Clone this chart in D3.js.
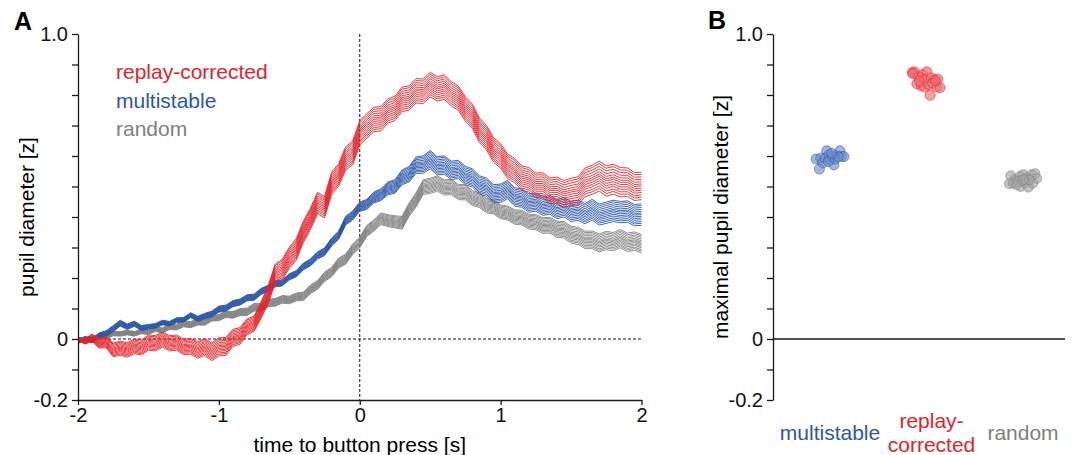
<!DOCTYPE html>
<html>
<head>
<meta charset="utf-8">
<script src="https://cdn.jsdelivr.net/npm/d3@7"></script>
<style>
  body { margin: 0; background: #fff; }
  svg { font-family: "Liberation Sans", Arial, sans-serif; }
</style>
</head>
<body>
<svg id="chart" width="1072" height="455"></svg>
<script>
// ---- data -------------------------------------------------------------
// sample times of the traces, -2 s .. 2 s every 50 ms
const sampleTimes = d3.range(81).map((i) => -2 + i * 0.05);

const conditions = ["multistable", "replay-corrected", "random"];

// mean pupil trace per condition (z), one value per sample time
const multistableMean = [
  -0.01, 0.002, -0.006, 0.012, 0.018, 0.034, 0.052, 0.04, 0.05, 0.036,
  0.04, 0.043, 0.054, 0.05, 0.062, 0.063, 0.078, 0.066, 0.075, 0.082,
  0.098, 0.101, 0.116, 0.121, 0.135, 0.137, 0.156, 0.166, 0.181, 0.184,
  0.204, 0.214, 0.238, 0.251, 0.274, 0.286, 0.318, 0.34, 0.388, 0.405,
  0.434, 0.441, 0.464, 0.473, 0.494, 0.5, 0.53, 0.54, 0.57, 0.572,
  0.588, 0.568, 0.57, 0.553, 0.556, 0.536, 0.528, 0.505, 0.498, 0.476,
  0.478, 0.49, 0.466, 0.462, 0.446, 0.449, 0.436, 0.44, 0.426, 0.432,
  0.418, 0.422, 0.411, 0.424, 0.408, 0.414, 0.42, 0.416, 0.418, 0.406,
  0.408
];
const replayMean = [
  0.0, -0.008, 0.004, -0.014, -0.01, -0.036, -0.03, -0.036, -0.024, -0.028,
  -0.012, -0.014, -0.002, -0.014, -0.012, -0.026, -0.024, -0.036, -0.026, -0.042,
  -0.026, -0.024, 0.004, 0.01, 0.04, 0.05, 0.095, 0.145, 0.215, 0.228,
  0.266, 0.294, 0.352, 0.394, 0.446, 0.432, 0.51, 0.538, 0.592, 0.61,
  0.676, 0.698, 0.72, 0.722, 0.748, 0.756, 0.786, 0.79, 0.814, 0.812,
  0.834, 0.82, 0.826, 0.804, 0.79, 0.754, 0.73, 0.684, 0.66, 0.62,
  0.6, 0.566, 0.552, 0.528, 0.522, 0.504, 0.504, 0.486, 0.488, 0.476,
  0.482, 0.486, 0.514, 0.522, 0.534, 0.518, 0.524, 0.514, 0.514, 0.5,
  0.502
];
const randomMean = [
  0.0, 0.003, 0.002, 0.01, 0.008, 0.018, 0.017, 0.021, 0.017, 0.025,
  0.022, 0.033, 0.028, 0.04, 0.039, 0.05, 0.047, 0.056, 0.055, 0.069,
  0.07, 0.081, 0.079, 0.088, 0.089, 0.104, 0.103, 0.118, 0.12, 0.13,
  0.128, 0.138, 0.14, 0.163, 0.177, 0.204, 0.219, 0.249, 0.262, 0.294,
  0.317, 0.354, 0.372, 0.394, 0.388, 0.384, 0.381, 0.424, 0.456, 0.498,
  0.502, 0.51, 0.497, 0.498, 0.482, 0.481, 0.462, 0.455, 0.437, 0.433,
  0.417, 0.413, 0.4, 0.398, 0.385, 0.383, 0.372, 0.373, 0.36, 0.358,
  0.342, 0.338, 0.325, 0.325, 0.315, 0.323, 0.319, 0.329, 0.317, 0.321,
  0.313
];

// width of the bundle of single traces (z), every 250 ms
const spreadTimes = d3.range(17).map((i) => -2 + i * 0.25);
const multistableSpread = [0.01, 0.02, 0.015, 0.015, 0.02, 0.02, 0.02, 0.025, 0.03, 0.045, 0.06, 0.06, 0.06, 0.06, 0.065, 0.07, 0.07];
const replaySpread = [0.01, 0.045, 0.05, 0.05, 0.06, 0.05, 0.07, 0.07, 0.08, 0.08, 0.08, 0.08, 0.08, 0.08, 0.09, 0.1, 0.09];
const randomSpread = [0.005, 0.015, 0.015, 0.02, 0.02, 0.025, 0.025, 0.03, 0.035, 0.04, 0.05, 0.05, 0.045, 0.05, 0.055, 0.06, 0.06];

// position of each single trace inside the bundle (fraction of spread)
const traceOffsets = [-0.5, -0.41, -0.33, -0.24, -0.16, -0.08, 0.0, 0.07, 0.15, 0.24, 0.33, 0.42, 0.5];

// panel B: maximal pupil diameter per subject, with horizontal jitter
const multistableMax = [0.590, 0.593, 0.577, 0.617, 0.592, 0.604, 0.588, 0.599, 0.571, 0.601, 0.617, 0.599, 0.598, 0.557, 0.582, 0.590, 0.597, 0.608];
const multistableJitter = [-0.144, -0.096, -0.075, -0.034, -0.052, -0.01, 0, 0.028, 0.041, 0.069, 0.103, 0.12, 0.144, -0.11, -0.018, 0.052, 0.086, 0.018];
const replayMax = [0.874, 0.876, 0.859, 0.867, 0.876, 0.850, 0.856, 0.850, 0.852, 0.837, 0.830, 0.826, 0.834, 0.839, 0.826, 0.824, 0.799, 0.870, 0.845, 0.847];
const replayJitter = [-0.148, -0.124, -0.079, -0.038, 0.003, -0.021, 0.048, 0.082, 0.117, -0.1, -0.055, -0.021, 0.024, 0.065, 0.106, 0.141, 0.038, -0.141, -0.072, 0.093];
const randomMax = [0.535, 0.522, 0.533, 0.539, 0.528, 0.539, 0.542, 0.526, 0.509, 0.511, 0.517, 0.500, 0.513, 0.498, 0.511, 0.522, 0.506, 0.522];
const randomJitter = [-0.127, -0.082, -0.031, 0.003, 0.038, 0.09, 0.124, 0.141, -0.141, -0.1, -0.048, -0.024, 0.021, 0.055, 0.1, 0.065, -0.065, 0.003];

const xTickValues = [-2, -1, 0, 1, 2];
const yTickValues = [-0.2, -0.1, 0, 0.1, 0.2, 0.3, 0.4, 0.5, 0.6, 0.7, 0.8, 0.9, 1.0];
const yTickLabels = new Map([[-0.2, "-0.2"], [0, "0"], [1.0, "1.0"]]);

// ---- styling -----------------------------------------------------------
const color = {
  "multistable": "#2b57a7",
  "replay-corrected": "#e4222a",
  "random": "#808080",
};
const pointFill = {
  "multistable": "#6f8fcb",
  "replay-corrected": "#ef6b70",
  "random": "#a3a3a3",
};

const series = [
  { key: "random", mean: randomMean, spread: randomSpread },
  { key: "multistable", mean: multistableMean, spread: multistableSpread },
  { key: "replay-corrected", mean: replayMean, spread: replaySpread },
];
const points = [
  { key: "multistable", values: multistableMax, jitter: multistableJitter },
  { key: "replay-corrected", values: replayMax, jitter: replayJitter },
  { key: "random", values: randomMax, jitter: randomJitter },
];

const svg = d3.select("#chart");
const axisColor = "#1a1a1a";

// ---- panel A -----------------------------------------------------------
const marginTop = 34, bottomA = 400;
const leftA = 78, rightA = 641.5;

const x = d3.scaleLinear().domain([-2, 2]).range([leftA, rightA]);
const y = d3.scaleLinear().domain([-0.2, 1.0]).range([bottomA, marginTop]);

// reference lines
svg.append("line")
  .attr("x1", x(-2)).attr("x2", x(2))
  .attr("y1", y(0)).attr("y2", y(0))
  .attr("stroke", "#111").attr("stroke-width", 1)
  .attr("stroke-dasharray", "3,2");
svg.append("line")
  .attr("x1", x(0)).attr("x2", x(0))
  .attr("y1", y(1)).attr("y2", y(-0.2))
  .attr("stroke", "#111").attr("stroke-width", 1)
  .attr("stroke-dasharray", "3,2");

const line = d3.line()
  .x((d) => x(d[0]))
  .y((d) => y(d[1]));

const traces = svg.append("g").attr("fill", "none");
series.forEach((s) => {
  const spreadAt = d3.scaleLinear().domain(spreadTimes).range(s.spread);
  traces.append("g")
    .attr("stroke", color[s.key])
    .attr("stroke-width", 0.9)
    .attr("stroke-linejoin", "bevel")
    .selectAll("path")
    .data(traceOffsets)
    .join("path")
    .attr("d", (f) => line(sampleTimes.map((t, i) => [t, s.mean[i] + f * spreadAt(t)])));
});

// axes
const yAxisA = svg.append("g")
  .attr("transform", `translate(${leftA},0)`)
  .call(d3.axisLeft(y)
    .tickValues(yTickValues)
    .tickSize(6)
    .tickSizeOuter(0)
    .tickPadding(4)
    .tickFormat((d) => yTickLabels.get(Math.round(d * 10) / 10) || ""));

const xAxisA = svg.append("g")
  .attr("transform", `translate(0,${bottomA})`)
  .call(d3.axisBottom(x)
    .tickValues(xTickValues)
    .tickSize(5)
    .tickSizeOuter(0)
    .tickPadding(3)
    .tickFormat((d) => String(d)));

svg.append("text")
  .attr("x", (leftA + rightA) / 2)
  .attr("y", 452)
  .attr("text-anchor", "middle")
  .attr("font-size", 21)
  .text("time to button press [s]");

svg.append("text")
  .attr("transform", `translate(27,${(marginTop + bottomA) / 2}) rotate(-90)`)
  .attr("text-anchor", "middle")
  .attr("dy", "0.35em")
  .attr("font-size", 21)
  .text("pupil diameter [z]");

// legend
const legendOrder = ["replay-corrected", "multistable", "random"];
svg.append("g")
  .selectAll("text")
  .data(legendOrder)
  .join("text")
  .attr("x", 116)
  .attr("y", (d, i) => 72 + i * 28.5)
  .attr("dy", "0.35em")
  .attr("font-size", 21)
  .attr("fill", (d) => color[d])
  .text((d) => d);

svg.append("text")
  .attr("x", 14).attr("y", 29.5)
  .attr("font-size", 25).attr("font-weight", "bold")
  .text("A");

// ---- panel B -----------------------------------------------------------
const leftB = 773, rightB = 1065;
const xb = d3.scalePoint().domain(conditions).range([830, 1023]);
const jitterScale = xb.step();

svg.append("line")
  .attr("x1", leftB).attr("x2", rightB)
  .attr("y1", y(0)).attr("y2", y(0))
  .attr("stroke", axisColor).attr("stroke-width", 1.3);

const yAxisB = svg.append("g")
  .attr("transform", `translate(${leftB},0)`)
  .call(d3.axisLeft(y)
    .tickValues(yTickValues)
    .tickSize(6)
    .tickSizeOuter(0)
    .tickPadding(4)
    .tickFormat((d) => yTickLabels.get(Math.round(d * 10) / 10) || ""));

[yAxisA, xAxisA, yAxisB].forEach((g) => {
  g.attr("font-size", 20).attr("font-family", null);
  g.selectAll("path, line").attr("stroke", axisColor).attr("stroke-width", 1.3);
  g.selectAll("text").attr("fill", "#111");
});

points.forEach((p) => {
  svg.append("g")
    .selectAll("circle")
    .data(p.values.map((v, i) => [p.jitter[i], v]))
    .join("circle")
    .attr("cx", (d) => xb(p.key) + d[0] * jitterScale)
    .attr("cy", (d) => y(d[1]))
    .attr("r", 5)
    .attr("fill", pointFill[p.key])
    .attr("fill-opacity", 0.65)
    .attr("stroke", color[p.key])
    .attr("stroke-opacity", 0.7)
    .attr("stroke-width", 0.8);
});

// category labels
const catLabels = [
  { key: "multistable", lines: ["multistable"] },
  { key: "replay-corrected", lines: ["replay-", "corrected"] },
  { key: "random", lines: ["random"] },
];
catLabels.forEach((c) => {
  const t = svg.append("text")
    .attr("text-anchor", "middle")
    .attr("font-size", 21)
    .attr("fill", color[c.key]);
  c.lines.forEach((l, i) => {
    t.append("tspan")
      .attr("x", xb(c.key) + (c.lines.length > 1 ? 5 : 0))
      .attr("y", 433 + (i - (c.lines.length - 1) / 2) * 24)
      .attr("dy", "0.35em")
      .text(l);
  });
});

svg.append("text")
  .attr("transform", `translate(721,${(marginTop + bottomA) / 2}) rotate(-90)`)
  .attr("text-anchor", "middle")
  .attr("dy", "0.35em")
  .attr("font-size", 21)
  .text("maximal pupil diameter [z]");

svg.append("text")
  .attr("x", 708).attr("y", 28.5)
  .attr("font-size", 25).attr("font-weight", "bold")
  .text("B");
</script>
</body>
</html>
